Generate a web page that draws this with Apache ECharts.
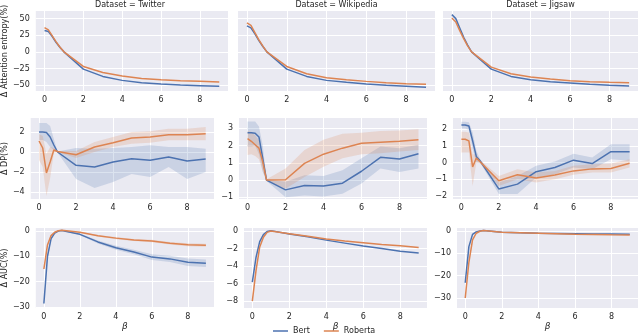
<!DOCTYPE html>
<html>
<head>
<meta charset="utf-8">
<script src="https://cdn.jsdelivr.net/npm/echarts@6/dist/echarts.min.js"></script>
<style>
  html, body { margin: 0; background: #fff; }
  #chart { width: 640px; height: 336px; }
</style>
</head>
<body>
<div id="chart"></div>
<script>
const beta = [0, 0.2, 0.4, 0.6, 0.8, 1, 2, 3, 4, 5, 6, 7, 8, 9];
const datasets = ['Twitter', 'Wikipedia', 'Jigsaw'];
const xTicks = [0, 2, 4, 6, 8];

// row 1: attention entropy
const entTicks = [-50, -25, 0, 25, 50];
const entTwitterBert = [32, 30.5, 23, 14, 6.5, 0, -26, -37, -43, -46.5, -48.5, -50, -51, -52];
const entTwitterRob = [36.5, 33, 24, 15, 7, 0, -22, -31, -36.5, -40, -42, -43.5, -44.5, -45.5];
const entWikiBert = [39, 36, 27, 17, 8, 0, -26, -37, -43, -46, -48.5, -50.5, -52, -53.5];
const entWikiRob = [43.5, 40, 29, 18, 8.5, 0, -22, -33, -39, -42, -44.5, -46.5, -48, -49];
const entJigsawBert = [56, 50, 36, 22, 10, 0, -26, -37, -42, -45, -47, -49, -50.5, -51.5];
const entJigsawRob = [51, 45, 32, 20, 9, 0, -23, -33, -38, -41, -43.5, -45, -46, -46.5];

// row 2: DP
const dpTwitterTicks = [-4, -2, 0, 2];
const dpTwitterBert = [2.0, 2.0, 1.95, 1.5, 0.7, 0.0, -1.33, -1.5, -1.0, -0.67, -0.83, -0.5, -0.9, -0.7];
const dpTwitterBertLo = [1.2, 1.2, 1.0, 0.5, 0.2, -0.05, -2.7, -3.6, -3.0, -2.2, -2.5, -1.5, -2.7, -2.0];
const dpTwitterBertHi = [2.9, 2.9, 2.9, 2.6, 1.3, 0.05, 0.4, 0.33, 0.4, 0.5, 0.67, 0.5, 0.5, 0.33];
const dpTwitterRob = [1.1, 0.4, -2.1, -1.0, 0.2, 0.05, -0.27, 0.5, 0.93, 1.4, 1.5, 1.73, 1.73, 1.83];
const dpTwitterRobLo = [-0.8, -1.5, -4.4, -2.6, -0.1, 0.0, -0.6, 0.0, 0.5, 0.83, 0.93, 1.17, 1.17, 1.17];
const dpTwitterRobHi = [1.8, 1.6, -0.2, 0.5, 0.4, 0.1, 0.1, 1.0, 1.5, 2.0, 2.07, 2.33, 2.33, 2.5];

const dpWikiTicks = [-1, 0, 1, 2, 3];
const dpWikiBert = [2.74, 2.74, 2.72, 2.5, 1.26, 0.0, -0.57, -0.32, -0.35, -0.18, 0.51, 1.32, 1.22, 1.52];
const dpWikiBertLo = [1.95, 1.95, 2.0, 1.5, 0.5, -0.05, -1.0, -0.9, -0.95, -0.8, -0.2, 0.67, 0.47, 0.67];
const dpWikiBertHi = [3.4, 3.4, 3.4, 3.1, 2.0, 0.05, -0.1, 0.28, 0.24, 0.57, 1.26, 1.95, 1.85, 2.05];
const dpWikiRob = [2.4, 2.25, 2.05, 1.85, 1.06, 0.0, 0.02, 0.97, 1.5, 1.85, 2.13, 2.19, 2.25, 2.34];
const dpWikiRobLo = [1.46, 1.5, 1.4, 1.2, 0.5, -0.05, -0.5, 0.18, 0.77, 1.26, 1.5, 1.56, 1.65, 1.75];
const dpWikiRobHi = [2.84, 2.8, 2.6, 2.3, 1.5, 0.05, 0.67, 1.75, 2.34, 2.68, 2.74, 2.84, 2.88, 2.94];

const dpJigsawTicks = [-2, -1, 0, 1, 2];
const dpJigsawBert = [2.24, 2.24, 2.18, 1.3, 0.35, 0.1, -1.58, -1.29, -0.55, -0.3, 0.14, -0.06, 0.65, 0.65];
const dpJigsawBertLo = [2.04, 2.04, 1.95, 0.8, 0.0, 0.0, -1.88, -1.88, -0.9, -0.7, -0.3, -0.4, 0.2, 0.1];
const dpJigsawBertHi = [2.44, 2.44, 2.4, 1.8, 0.7, 0.2, -1.19, -0.8, -0.2, 0.06, 0.53, 0.3, 1.09, 1.09];
const dpJigsawRob = [1.39, 1.39, 1.29, -0.26, 0.26, 0.05, -1.09, -0.73, -0.93, -0.75, -0.5, -0.38, -0.36, -0.04];
const dpJigsawRobLo = [0.6, 0.6, 0.6, -1.4, 0.0, -0.05, -1.4, -1.0, -1.2, -1.0, -0.73, -0.6, -0.6, -0.3];
const dpJigsawRobHi = [1.84, 1.84, 1.8, 0.5, 0.5, 0.15, -0.8, -0.4, -0.6, -0.5, -0.2, -0.1, -0.06, 0.2];

// row 3: AUC
const aucTwitterTicks = [-30, -20, -10, 0];
const aucTwitterBert = [-28.6, -10, -3, -0.8, 0, 0.2, -1.3, -4.3, -6.6, -8.3, -10.3, -11, -12.3, -12.7];
const aucTwitterBertLo = [-29.5, -11, -3.4, -1, -0.2, 0, -1.6, -4.9, -7.4, -9.2, -11.4, -12.2, -13.8, -14.2];
const aucTwitterBertHi = [-27.7, -9, -2.6, -0.6, 0.2, 0.4, -1.0, -3.7, -5.8, -7.4, -9.2, -9.8, -10.8, -11.2];
const aucTwitterRob = [-15, -5.5, -1.8, -0.5, 0.1, 0.3, -0.5, -1.9, -2.8, -3.5, -3.9, -4.8, -5.4, -5.6];
const aucTwitterRobLo = [-15.5, -6, -2.1, -0.7, 0, 0.2, -0.7, -2.2, -3.2, -3.9, -4.4, -5.3, -6.0, -6.2];
const aucTwitterRobHi = [-14.5, -5, -1.5, -0.3, 0.2, 0.4, -0.3, -1.6, -2.4, -3.1, -3.4, -4.3, -4.8, -5.0];

const aucWikiTicks = [-8, -6, -4, -2, 0];
const aucWikiBert = [-5.8, -3.0, -1.2, -0.4, -0.05, 0.05, -0.34, -0.65, -1.03, -1.37, -1.71, -1.98, -2.29, -2.48];
const aucWikiRob = [-7.96, -4.5, -1.8, -0.7, -0.15, 0.0, -0.3, -0.6, -0.91, -1.14, -1.33, -1.52, -1.68, -1.87];

const aucJigsawTicks = [-30, -20, -10, 0];
const aucJigsawBert = [-23.2, -7, -1.5, -0.4, 0, 0.2, -0.6, -0.8, -1.0, -1.1, -1.2, -1.3, -1.35, -1.4];
const aucJigsawRob = [-30, -14, -4, -1, -0.1, 0.2, -0.6, -0.8, -1.0, -1.2, -1.4, -1.55, -1.7, -1.8];

const BLUE = '#4C72B0';
const ORANGE = '#DD8452';
const TEXT = '#262626';
const FONT = 'DejaVu Sans';

const grids = [
  { left: 32, top: 11, width: 196, height: 80 },
  { left: 238, top: 11, width: 197, height: 80 },
  { left: 443, top: 11, width: 195, height: 80 },
  { left: 27, top: 118, width: 187, height: 81 },
  { left: 239, top: 118, width: 188, height: 81 },
  { left: 453, top: 118, width: 185, height: 81 },
  { left: 32, top: 228, width: 182, height: 80 },
  { left: 244, top: 228, width: 183, height: 80 },
  { left: 457, top: 228, width: 181, height: 80 }
];

const panels = [
  { bert: entTwitterBert, rob: entTwitterRob, min: -59, max: 61.5, ticks: entTicks, labels: true, name: 'Δ Attention entropy(%)', gap: 22 },
  { bert: entWikiBert, rob: entWikiRob, min: -59, max: 61.5, ticks: entTicks, labels: false },
  { bert: entJigsawBert, rob: entJigsawRob, min: -59, max: 61.5, ticks: entTicks, labels: false },
  { bert: dpTwitterBert, rob: dpTwitterRob, bertLo: dpTwitterBertLo, bertHi: dpTwitterBertHi, robLo: dpTwitterRobLo, robHi: dpTwitterRobHi,
    min: -4.7, max: 3.4, ticks: dpTwitterTicks, labels: true, name: 'Δ DP(%)', gap: 13 },
  { bert: dpWikiBert, rob: dpWikiRob, bertLo: dpWikiBertLo, bertHi: dpWikiBertHi, robLo: dpWikiRobLo, robHi: dpWikiRobHi,
    min: -1.1, max: 3.6, ticks: dpWikiTicks, labels: true },
  { bert: dpJigsawBert, rob: dpJigsawRob, bertLo: dpJigsawBertLo, bertHi: dpJigsawBertHi, robLo: dpJigsawRobLo, robHi: dpJigsawRobHi,
    min: -2.18, max: 2.66, ticks: dpJigsawTicks, labels: true },
  { bert: aucTwitterBert, rob: aucTwitterRob, bertLo: aucTwitterBertLo, bertHi: aucTwitterBertHi, robLo: aucTwitterRobLo, robHi: aucTwitterRobHi,
    min: -30.4, max: 1.2, ticks: aucTwitterTicks, labels: true, name: 'Δ AUC(%)', gap: 19 },
  { bert: aucWikiBert, rob: aucWikiRob, min: -8.75, max: 0.35, ticks: aucWikiTicks, labels: true },
  { bert: aucJigsawBert, rob: aucJigsawRob, min: -34.5, max: 1.35, ticks: aucJigsawTicks, labels: true }
];

const fmt = v => String(v).replace('-', '\u2212');

const xAxes = grids.map((g, i) => ({
  type: 'value',
  gridIndex: i,
  min: -0.45,
  max: 9.45,
  name: i >= 6 ? 'β' : '',
  nameLocation: 'middle',
  nameGap: 11,
  nameTextStyle: { fontFamily: FONT, fontSize: 9, fontStyle: 'italic', color: TEXT },
  axisLine: { show: false },
  axisTick: { show: false, customValues: xTicks },
  axisLabel: { customValues: xTicks, fontFamily: FONT, fontSize: 8, color: TEXT, margin: 5 },
  splitLine: { lineStyle: { color: '#fff', width: 1 } }
}));

const yAxes = panels.map((p, i) => ({
  type: 'value',
  gridIndex: i,
  min: p.min,
  max: p.max,
  name: p.name || '',
  nameLocation: 'middle',
  nameGap: p.gap || 0,
  nameTextStyle: { fontFamily: FONT, fontSize: 8, color: TEXT },
  axisLine: { show: false },
  axisTick: { show: false, customValues: p.ticks },
  axisLabel: { show: p.labels, customValues: p.ticks, formatter: fmt, fontFamily: FONT, fontSize: 8, color: TEXT, margin: 6 },
  splitLine: { lineStyle: { color: '#fff', width: 1 } }
}));

// confidence band: one polygon, drawn when rendering the first item
function band(i, lo, hi, color) {
  return {
    type: 'custom', xAxisIndex: i, yAxisIndex: i, silent: true, z: 1,
    data: beta.map((x, k) => [x, lo[k], hi[k]]),
    encode: { x: 0, y: [1, 2] },
    renderItem: (params, api) => {
      if (params.dataIndexInside !== 0) return;
      const n = params.dataInsideLength;
      const top = [], bottom = [];
      for (let k = 0; k < n; k++) {
        const x = api.value(0, k);
        top.push(api.coord([x, api.value(2, k)]));
        bottom.unshift(api.coord([x, api.value(1, k)]));
      }
      return {
        type: 'polygon',
        shape: { points: top.concat(bottom) },
        style: { fill: color, stroke: null }
      };
    }
  };
}

function line(i, name, values, color) {
  return {
    type: 'line', name: name, xAxisIndex: i, yAxisIndex: i,
    data: beta.map((x, k) => [x, values[k]]),
    symbol: 'none', lineStyle: { color: color, width: 1.5 }, itemStyle: { color: color }, z: 3
  };
}

const series = [];
panels.forEach((p, i) => {
  if (p.bertLo) series.push(band(i, p.bertLo, p.bertHi, 'rgba(76,114,176,0.2)'));
  if (p.robLo) series.push(band(i, p.robLo, p.robHi, 'rgba(221,132,82,0.2)'));
  series.push(line(i, 'Bert', p.bert, BLUE));
  series.push(line(i, 'Roberta', p.rob, ORANGE));
});

const titles = datasets.map((d, c) => ({
  text: 'Dataset = ' + d,
  left: grids[c].left + grids[c].width / 2,
  textAlign: 'center',
  top: 1,
  padding: 0,
  textStyle: { fontFamily: FONT, fontSize: 8, fontWeight: 'normal', color: TEXT }
}));

const chart = echarts.init(document.getElementById('chart'));
chart.setOption({
  animation: false,
  backgroundColor: '#fff',
  title: titles,
  legend: {
    data: ['Bert', 'Roberta'],
    icon: 'rect',
    left: 273,
    top: 327,
    itemWidth: 15,
    itemHeight: 1.5,
    itemGap: 14,
    padding: 0,
    textStyle: { fontFamily: FONT, fontSize: 8, color: TEXT }
  },
  grid: grids.map(g => Object.assign({ show: true, backgroundColor: '#EAEAF2', borderWidth: 0 }, g)),
  xAxis: xAxes,
  yAxis: yAxes,
  series: series
});
</script>
</body>
</html>
